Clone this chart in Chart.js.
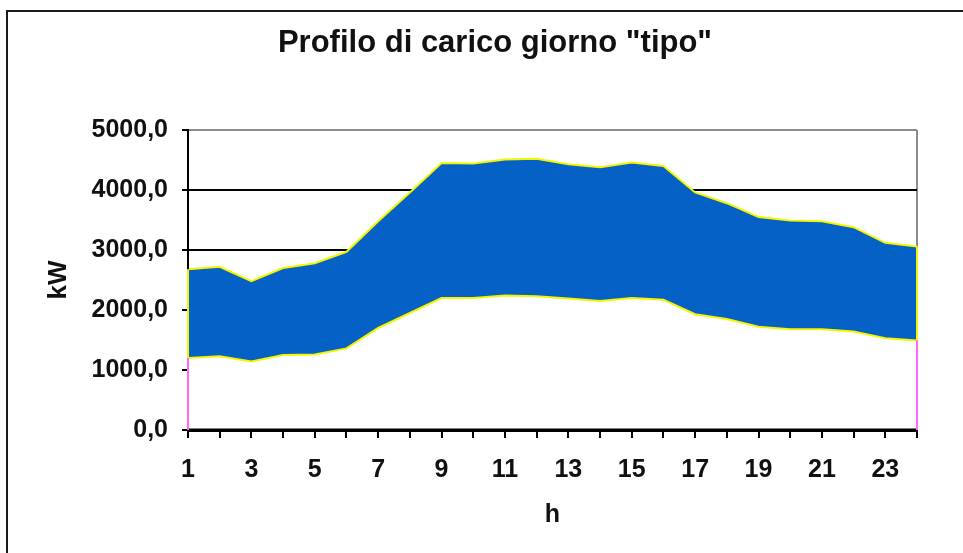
<!DOCTYPE html>
<html>
<head>
<meta charset="utf-8">
<script src="https://cdn.jsdelivr.net/npm/chart.js@4/dist/chart.umd.min.js"></script>
<style>
  html, body { margin: 0; padding: 0; background: #fff; overflow: hidden; }
  #wrap { position: relative; width: 963px; height: 553px; }
  #frame { position: absolute; left: 6px; top: 10px; width: 980px; height: 600px; border: 2px solid #1a1a1a; box-sizing: border-box; }
  #chart { position: absolute; left: 0; top: 0; }
</style>
</head>
<body>
<div id="wrap">
  <div id="frame"></div>
  <canvas id="chart" width="963" height="553"></canvas>
</div>
<script>
// ore del giorno
var hours = [1, 2, 3, 4, 5, 6, 7, 8, 9, 10, 11, 12, 13, 14, 15, 16, 17, 18, 19, 20, 21, 22, 23, 24];
// carico minimo e massimo (kW)
var lower = [1200, 1230, 1140, 1250, 1260, 1360, 1700, 1950, 2200, 2200, 2240, 2230, 2190, 2150, 2200, 2170, 1930, 1850, 1720, 1680, 1680, 1640, 1530, 1490];
var upper = [2680, 2720, 2480, 2700, 2780, 2970, 3480, 3960, 4450, 4440, 4510, 4520, 4430, 4380, 4460, 4400, 3960, 3780, 3550, 3490, 3480, 3380, 3120, 3060];
var yTicks = [0, 1000, 2000, 3000, 4000, 5000];
var titleText = 'Profilo di carico giorno "tipo"';

var font = "'Liberation Sans', Arial, sans-serif";

function points(values) {
  return hours.map(function (h, i) {
    return { x: h, y: values[i] };
  });
}

// titolo centrato sulla cornice, non sull'area del grafico
var frameTitle = {
  id: "frameTitle",
  afterDraw: function (chart) {
    var ctx = chart.ctx;
    ctx.save();
    ctx.fillStyle = "#111";
    ctx.font = "bold 31px " + font;
    ctx.textAlign = "center";
    ctx.textBaseline = "middle";
    ctx.fillText(titleText, 495, 43);
    ctx.restore();
  },
};

// bordi verticali delle aree e assi ridisegnati sopra il riempimento
var edges = {
  id: "edges",
  afterDatasetsDraw: function (chart) {
    var ctx = chart.ctx;
    var xs = chart.scales.x;
    var ys = chart.scales.y;
    var area = chart.chartArea;
    ctx.save();
    ctx.strokeStyle = "#000";
    ctx.lineWidth = 2;
    ctx.beginPath();
    ctx.moveTo(area.left, area.top);
    ctx.lineTo(area.left, area.bottom);
    ctx.stroke();
    ctx.lineWidth = 3;
    ctx.beginPath();
    ctx.moveTo(area.left, area.bottom);
    ctx.lineTo(area.right, area.bottom);
    ctx.stroke();
    [0, hours.length - 1].forEach(function (i) {
      var x = xs.getPixelForValue(hours[i]);
      ctx.lineWidth = 2;
      ctx.strokeStyle = "#ff66ff";
      ctx.beginPath();
      ctx.moveTo(x, ys.getPixelForValue(lower[i]));
      ctx.lineTo(x, ys.getPixelForValue(0));
      ctx.stroke();
      ctx.strokeStyle = "#f5f500";
      ctx.beginPath();
      ctx.moveTo(x, ys.getPixelForValue(lower[i]));
      ctx.lineTo(x, ys.getPixelForValue(upper[i]));
      ctx.stroke();
    });
    ctx.restore();
  },
};

var config = {
  type: "line",
  data: {
    datasets: [
      {
        label: "min",
        data: points(lower),
        borderColor: "#f5f500",
        borderWidth: 2,
        backgroundColor: "#ffffff",
        fill: "origin",
        pointRadius: 0,
        tension: 0,
      },
      {
        label: "max",
        data: points(upper),
        borderColor: "#f5f500",
        borderWidth: 2,
        backgroundColor: "#0561c6",
        fill: "-1",
        pointRadius: 0,
        tension: 0,
      },
    ],
  },
  options: {
    responsive: false,
    animation: false,
    layout: { padding: { left: 0, right: 46, top: 130, bottom: 0 } },
    plugins: {
      legend: { display: false },
      tooltip: { enabled: false },
      title: { display: false },
    },
    scales: {
      x: {
        type: "linear",
        min: 1,
        max: 24,
        afterFit: function (scale) {
          scale.height = 123;
        },
        ticks: {
          stepSize: 1,
          autoSkip: false,
          maxRotation: 0,
          padding: 17,
          color: "#111",
          font: { family: font, size: 25, weight: "bold" },
          callback: function (v) {
            return v % 2 === 1 ? String(v) : "";
          },
        },
        grid: {
          drawOnChartArea: true,
          color: function (c) {
            return c.tick && c.tick.value === 24 ? "#8c8c8c" : "rgba(0,0,0,0)";
          },
          lineWidth: 2,
          tickColor: "#000",
          tickLength: 8,
          tickWidth: 2,
        },
        border: { color: "#000", width: 3 },
        title: {
          display: true,
          text: "h",
          color: "#111",
          font: { family: font, size: 25, weight: "bold" },
          padding: { top: 0, bottom: 23 },
        },
      },
      y: {
        min: 0,
        max: 5000,
        afterFit: function (scale) {
          scale.width = 188;
        },
        afterBuildTicks: function (scale) {
          scale.ticks = yTicks.map(function (v) {
            return { value: v };
          });
        },
        ticks: {
          padding: 14,
          color: "#111",
          font: { family: font, size: 25, weight: "bold" },
          callback: function (v) {
            return v.toFixed(1).replace(".", ",");
          },
        },
        grid: {
          color: function (c) {
            return c.tick && c.tick.value === 5000 ? "#8c8c8c" : "#000";
          },
          lineWidth: 2,
          tickColor: "#000",
          tickLength: 6,
          tickWidth: 2,
        },
        border: { color: "#000", width: 2 },
        title: {
          display: true,
          text: "kW",
          color: "#111",
          font: { family: font, size: 26, weight: "bold" },
          padding: { top: 43, bottom: 0 },
        },
      },
    },
  },
  plugins: [edges, frameTitle],
};

var canvas = document.getElementById("chart");
canvas.chart = new Chart(canvas.getContext("2d"), config);
</script>
</body>
</html>
